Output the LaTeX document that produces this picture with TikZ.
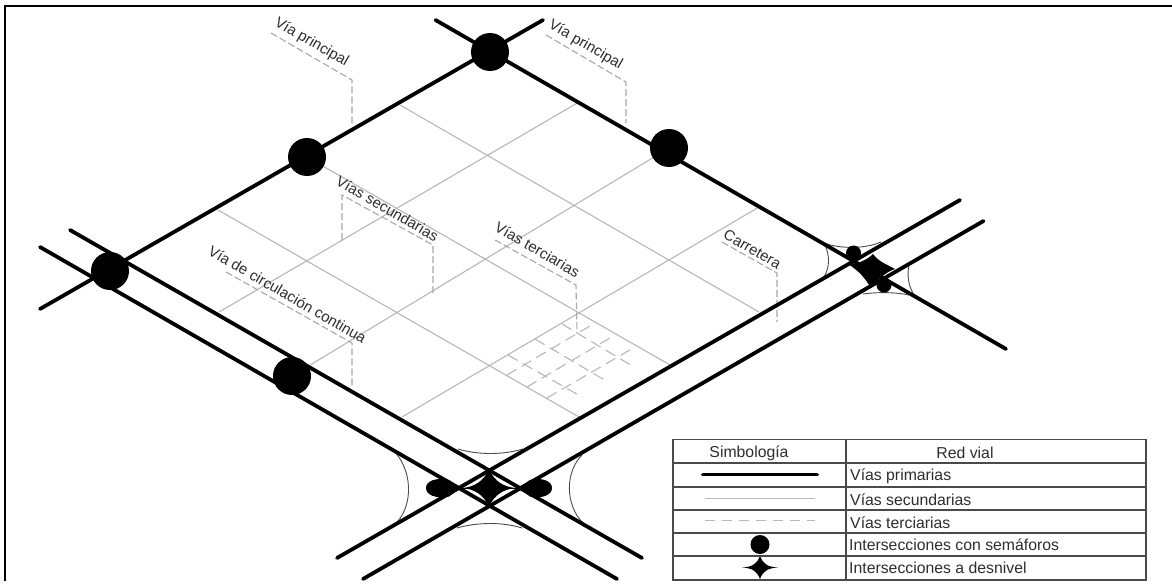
\documentclass[tikz,border=0pt]{standalone}
\usepackage{fontspec}
\setmainfont{Liberation Sans}
\usetikzlibrary{calc}
\definecolor{roadgray}{HTML}{B8B8B8}
\definecolor{leader}{HTML}{A8A8A8}
\definecolor{txt}{HTML}{2E2E2E}
\definecolor{rule}{HTML}{4A4A4A}
\tikzset{
  primary/.style={line width=3.8pt,black,line cap=round},
  secondary/.style={line width=1.1pt,roadgray},
  tertiary/.style={line width=1.1pt,roadgray,dash pattern=on 11pt off 6pt},
  leaderline/.style={line width=1.1pt,leader,dash pattern=on 7pt off 3pt},
  fillet/.style={line width=0.9pt,black!70},
  signal/.style={circle,fill=black,inner sep=0pt,minimum size=#1},
  tag/.style={font=\fontsize{15}{16}\selectfont,text=txt,rotate=-30,inner sep=0pt},
  legtext/.style={font=\fontsize{15.8}{18}\selectfont,text=txt,inner sep=0pt},
  tabline/.style={line width=1.2pt,rule}
}
\begin{document}
\begin{tikzpicture}[x=1pt,y=-1pt]
\useasboundingbox (0,0) rectangle (1172,586);
\fill[white] (0,0) rectangle (1172,586);
% frame
\draw[line width=2.4pt,black] (5,581) -- (5,6) -- (1172,6);
% secondary grid
\coordinate (d1) at (110,271);
\coordinate (d2) at (307,157);
\coordinate (d3) at (490,52);
\coordinate (d4) at (669,148);
\coordinate (d5) at (292,376);
\draw[secondary] (400,105) -- (759,312);
\draw[secondary] (d2) -- (670,365);
\draw[secondary] (218,210) -- (579,417);
\draw[secondary] (579,102) -- (219,312);
\draw[secondary] (d4) -- (d5);
\draw[secondary] (759,207) -- (402,417);
% tertiary grid
\draw[tertiary] (507,375) -- (595,323);
\draw[tertiary] (527,387) -- (615,335);
\draw[tertiary] (547,398) -- (635,347);
\draw[tertiary] (508,355) -- (582,397);
\draw[tertiary] (535,339) -- (608,382);
\draw[tertiary] (562,324) -- (634,367);
% leaders
\draw[leaderline] (271,33) -- (352,80) -- (352,125);
\draw[leaderline] (546,35) -- (626,82) -- (626,123);
\draw[leaderline] (342,240) -- (342,195) -- (433,245) -- (433,293);
\draw[leaderline] (495,240) -- (576,285) -- (577,333);
\draw[leaderline] (226,272) -- (352,343) -- (352,387);
\draw[leaderline] (722,242) -- (777,273) -- (777,322);
% fillets
\draw[fillet] (458,449) .. controls (478,455) and (503,455) .. (523,449);
\draw[fillet] (393,450) .. controls (413,470) and (413,505) .. (397,522);
\draw[fillet] (582,455) .. controls (565,472) and (565,505) .. (583,523);
\draw[fillet] (457,528) .. controls (478,522) and (503,522) .. (522,528);
\draw[fillet] (824,243) .. controls (840,249) and (865,249) .. (881,242);
\draw[fillet] (824,243) .. controls (830,255) and (830,267) .. (824,277);
\draw[fillet] (909,265) .. controls (907,275) and (908,285) .. (914,295);
\draw[fillet] (863,294) .. controls (877,292) and (895,292) .. (909,295);
% primary roads
\coordinate (nwa) at (40,309);
\coordinate (nwb) at (543,20);
\coordinate (nea) at (435.5,20);
\coordinate (neb) at (1006,349);
\coordinate (aa) at (960,200);
\coordinate (ab) at (337,558);
\coordinate (ba) at (983.5,221);
\coordinate (bb) at (363,579);
\coordinate (ca) at (70,230);
\coordinate (cb) at (642,558);
\coordinate (da) at (40,247);
\coordinate (db) at (617,579);
\draw[primary] (nwa) -- (nwb);
\draw[primary] (nea) -- (neb);
\draw[primary] (aa) -- (ab);
\draw[primary] (ba) -- (bb);
\draw[primary] (ca) -- (cb);
\draw[primary] (da) -- (db);
% signals
\node[signal=38pt] (s1) at (d1) {};
\node[signal=38pt] (s2) at (d2) {};
\node[signal=38pt] (s3) at (d3) {};
\node[signal=38pt] (s4) at (d4) {};
\node[signal=38pt] (s5) at (d5) {};
% lower interchange
\fill[black] (489,470) .. controls (495,481) and (503,487) .. (516,488) .. controls (503,489) and (495,495) .. (489,506) .. controls (483,495) and (475,489) .. (462,488) .. controls (475,487) and (483,481) .. (489,470) -- cycle;
\draw[line width=1pt,black] (460,488) -- (519,488);
\fill[black] (460,488) -- (449,480) .. controls (436,477) and (426,481) .. (426,488) .. controls (426,495) and (436,499) .. (449,496.5) -- cycle;
\fill[black] (519,488) -- (530,480) .. controls (542,477) and (552,481) .. (552,488) .. controls (552,495) and (542,499) .. (530,496.5) -- cycle;
% upper interchange
\fill[black] (873,254) .. controls (879,262) and (886,264) .. (895,269) .. controls (886,272) and (878,279) .. (871,288) .. controls (865,278) and (859,271) .. (848,264) .. controls (858,264) and (867,260) .. (873,254) -- cycle;
\node[signal=15pt] (s6) at (853.5,253) {};
\node[signal=15pt] (s7) at (884,285) {};
% labels
\node[tag] (t1) at (311.5,42.5) {Vía principal};
\node[tag] (t2) at (585.5,45) {Vía principal};
\node[tag] (t3) at (387.5,208.5) {Vías secundarias};
\node[tag] (t4) at (537.5,249.5) {Vías terciarias};
\node[tag] (t5) at (287.5,294.5) {Vía de circulación continua};
\node[tag] (t6) at (752.5,249) {Carretera};
% legend table
\draw[tabline] (673,439.5) rectangle (1146,580);
\draw[tabline] (846,439.5) -- (846,580);
\foreach \y in {463,487,510,533,556}{\draw[tabline] (673,\y) -- (1146,\y);}
\node[legtext] (h1) at (749,453.5) {Simbología};
\node[legtext] (h2) at (965,452.5) {Red vial};
\node[legtext,anchor=west] (r1) at (850,476.5) {Vías primarias};
\node[legtext,anchor=west] (r2) at (850,500) {Vías secundarias};
\node[legtext,anchor=west] (r3) at (850,522.5) {Vías terciarias};
\node[legtext,anchor=west] (r4) at (849,545) {Intersecciones con semáforos};
\node[legtext,anchor=west] (r5) at (849,567.5) {Intersecciones a desnivel};
\coordinate (k1a) at (703,474.5);
\coordinate (k1b) at (817,474.5);
\draw[primary] (k1a) -- (k1b);
\draw[secondary] (705,498.5) -- (815,498.5);
\draw[tertiary,dash pattern=on 10pt off 7pt] (705,520.5) -- (815,520.5);
\node[signal=19pt] (k4) at (760,544.5) {};
\fill[black] (760,556) .. controls (763,564) and (768,567) .. (778,567.5) .. controls (768,568) and (763,571) .. (760,579) .. controls (757,571) and (752,568) .. (742,567.5) .. controls (752,567) and (757,564) .. (760,556) -- cycle;
\end{tikzpicture}
\end{document}
